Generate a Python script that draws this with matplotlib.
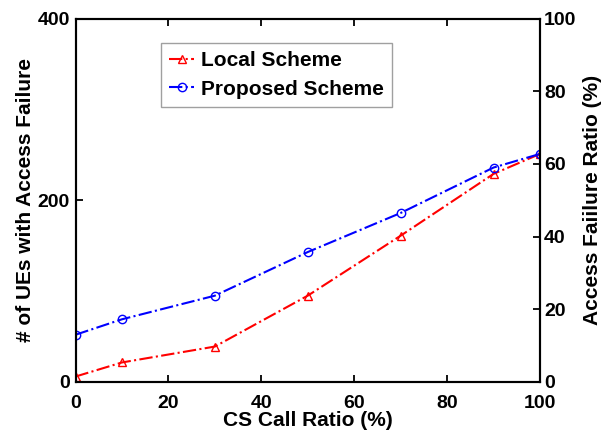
import matplotlib
matplotlib.use("Agg")
import matplotlib.pyplot as plt

plt.rcParams['font.family'] = ['Liberation Sans', 'DejaVu Sans']
plt.rcParams['font.weight'] = 'bold'

x = [0, 10, 30, 50, 70, 90, 100]
local = [6, 21.5, 39, 95, 161, 229, 251]
proposed = [52, 69, 95, 143, 186, 236, 251]

xticks = [0, 20, 40, 60, 80, 100]
yticks_left = [0, 200, 400]
yticks_right = [0, 20, 40, 60, 80, 100]

fig = plt.figure(figsize=(6.07, 4.33), dpi=100)
ax = fig.add_axes([75.5/607, (433-382)/433, (540-75.5)/607, (382-18.5)/433])

ax.plot(x, local, color='red', linestyle='-.', marker='^', mfc='none', mec='red',
        markersize=6, linewidth=1.5, label='Local Scheme')
ax.plot(x, proposed, color='blue', linestyle='-.', marker='o', mfc='none', mec='blue',
        markersize=6, linewidth=1.5, label='Proposed Scheme')

ax.set_xlim(0, 100)
ax.set_ylim(0, 400)
ax.set_xticks(xticks)
ax.set_yticks(yticks_left)
ax.tick_params(direction='in', top=True, right=True, labelright=False, length=5, width=1.3,
               labelsize=14)
ax.tick_params(axis='x', pad=9)
ax.tick_params(axis='y', pad=4)
for s in ax.spines.values():
    s.set_linewidth(1.5)
ax.set_xlabel('CS Call Ratio (%)', fontsize=15, fontweight='bold', labelpad=0)
ax.set_ylabel('# of UEs with Access Failure', fontsize=15, fontweight='bold', labelpad=2)

ax2 = ax.twinx()
ax2.set_ylim(0, 100)
ax2.set_yticks(yticks_right)
ax2.tick_params(direction='in', length=5, width=1.3, labelsize=14, pad=3)
ax2.set_ylabel('Access Faiilure Ratio (%)', fontsize=15, fontweight='bold', labelpad=5)
for s in ax2.spines.values():
    s.set_linewidth(1.5)

leg = ax.legend(loc='upper left', bbox_to_anchor=(0.184, 0.933), fontsize=15,
                frameon=True, fancybox=False, edgecolor='#888888', handlelength=1.2,
                borderpad=0.4, labelspacing=0.45, handletextpad=0.3, borderaxespad=0)
leg.get_frame().set_linewidth(1.0)

fig.savefig('out.png', dpi=100)
